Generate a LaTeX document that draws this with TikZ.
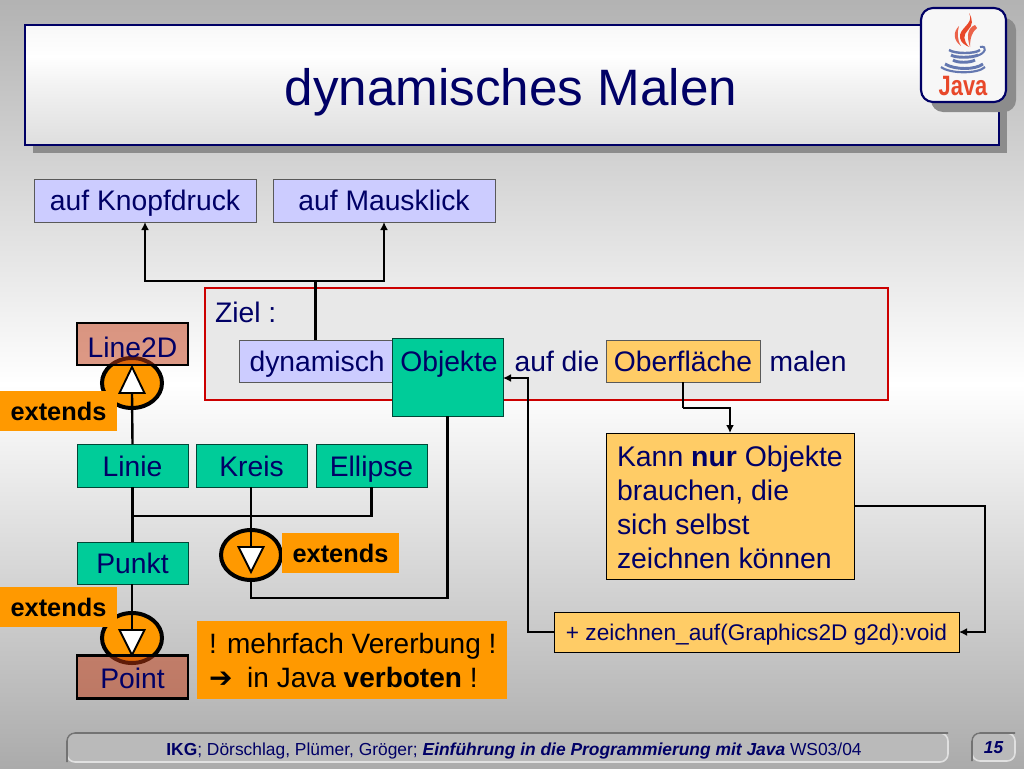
\documentclass[tikz,border=0pt]{standalone}
\usepackage{fontspec}
\setmainfont{Liberation Sans}
\newfontfamily\symfont{DejaVu Sans}
\usetikzlibrary{arrows.meta,shapes.geometric,calc}
\definecolor{navy}{HTML}{000066}
\definecolor{lilac}{HTML}{CCCCFF}
\definecolor{teal}{HTML}{00CC99}
\definecolor{sand}{HTML}{FFCC66}
\definecolor{orng}{HTML}{FF9900}
\definecolor{brick}{HTML}{C03810}
\definecolor{zred}{HTML}{CC0000}
\definecolor{flame}{HTML}{E8482A}
\definecolor{cupblue}{HTML}{6478B0}
\pgfdeclareverticalshading{pagebg}{100bp}{color(0bp)=(black!33);color(25bp)=(black!33);color(50bp)=(white);color(75bp)=(black!30);color(100bp)=(black!30)}
\pgfdeclareverticalshading{titlebg}{100bp}{color(0bp)=(black!13);color(25bp)=(black!13);color(50bp)=(black!5);color(62bp)=(white);color(75bp)=(black!3);color(100bp)=(black!3)}
\tikzset{
  x=0.75pt,y=-0.75pt,
  every node/.style={font=\fontsize{21.2}{25}\selectfont,text=navy,inner sep=0pt,outer sep=0pt},
  sz/.style 2 args={minimum width=#1*0.75pt,minimum height=#2*0.75pt},
  oneline/.style={text height=15.6pt,text depth=0pt},
  bluebox/.style={oneline,draw=black!65,line width=0.75pt,fill=lilac},
  tealbox/.style={oneline,draw=black!65!teal,line width=0.75pt,fill=teal},
  sandbox/.style={draw=black,line width=0.6pt,fill=sand},
  classbox/.style={oneline,draw=black,line width=1.6pt,fill=brick,fill opacity=0.5,text opacity=1},
  orangebox/.style={fill=orng,text=black},
  ext/.style={orangebox,text height=13.5pt,text depth=0pt,font=\fontsize{19}{22}\selectfont\bfseries},
  conn/.style={draw=black,line width=1.8pt},
  arr/.style={conn,-{Latex[length=6pt,width=6pt]}},
  ring/.style={draw=black,line width=3pt,fill=orng,ellipse,minimum width=60*0.75pt,minimum height=50*0.75pt},
  tri/.style={draw=black,line width=1.4pt,fill=white,line join=miter},
  footbox/.style={draw=black!12,line width=1.2pt,fill=black!27,rounded corners=6pt},
  footedge/.style={draw=black!55,line width=1.2pt,rounded corners=6pt},
}
\begin{document}
\begin{tikzpicture}
\useasboundingbox (0,0) rectangle (1024,768);
\shade[shading=pagebg] (0,0) rectangle (1024,768);

% title
\fill[black!45] (33,33) rectangle (1007,153);
\node[draw=navy,line width=1.6pt,sz={974}{120},shading=titlebg] (titlebox) at (512,85) {};
\node[text height=28.3pt,text depth=0pt,font=\fontsize{38.4}{44}\selectfont] (title) at (511,87) {dynamisches Malen};

% Java logo
\fill[black!45,rounded corners=12pt*0.75] (931,18) rectangle (1016,112);
\node[draw=navy,line width=1.6pt,fill=black!3,rounded corners=9pt,sz={85}{94}] (logo) at (963.5,55) {};
\fill[flame] (969,13) .. controls (975,24) and (958,28) .. (960,38) .. controls (961,43) and (965,45) .. (969,47)
  .. controls (963,40) and (963,35) .. (968,30) .. controls (973,25) and (973,20) .. (969,13);
\fill[flame!85!white] (975,25) .. controls (968,28) and (966,35) .. (970,47) .. controls (970,38) and (972,32) .. (977,28) -- cycle;
\fill[flame!85!white] (959,26) .. controls (953,32) and (953,40) .. (961,46) .. controls (957,39) and (957,33) .. (959,26) -- cycle;
\draw[cupblue,line width=1.8pt] (949,50) .. controls (955,54) and (975,54) .. (980,50);
\draw[cupblue,line width=1.5pt] (980,47) .. controls (988,45) and (986,54) .. (976,56);
\draw[cupblue,line width=2.2pt] (951,55) .. controls (955,58) and (972,58) .. (978,55);
\draw[cupblue,line width=2.2pt] (953,60) .. controls (957,63) and (970,63) .. (975,60);
\draw[cupblue,line width=2.2pt] (945,64) .. controls (955,70) and (975,70) .. (983,64);
\draw[cupblue,line width=1.6pt] (941,67) .. controls (950,74) and (978,74) .. (985,67);
\node[font=\fontsize{21}{24}\selectfont\bfseries,text=flame,xscale=0.78] (javatext) at (963,86) {Java};

% top boxes
\node[bluebox,sz={222}{43}] (knopf) at (145,200.5) {auf Knopfdruck};
\node[bluebox,sz={222}{43}] (maus) at (384,200.5) {auf Mausklick};

% Ziel frame
\node[draw=zred,line width=1.6pt,fill=black!9,sz={683}{112}] (ziel) at (546.5,344) {};
\node[anchor=west] (zieltext) at (215,312) {Ziel :};
\node[bluebox,sz={153}{42}] (dyn) at (315.5,361) {\hspace*{2.5pt}dynamisch};
\node[tealbox,sz={111}{78},anchor=north] (obj) at (447.5,338) {};
\node[oneline] (objtext) at (449,361) {Objekte};
\node[oneline] (aufdie) at (557,361) {auf die};
\node[oneline,draw=black!65,line width=0.75pt,fill=sand,sz={154}{42}] (ober) at (683,361) {Oberfläche};
\node[oneline] (malen) at (808,361) {malen};

% connectors to the top boxes
\coordinate (split) at (315.5,281);
\draw[conn] (dyn.north) -- (split);
\draw[arr] (split) -| (knopf.south);
\draw[arr] (split) -| (maus.south);

% extends rings behind translucent class boxes
\node[ring] (ringa) at (132,383) {};
\node[ring] (ringb) at (251,555) {};
\node[ring] (ringc) at (132,638) {};

\node[classbox,sz={111}{42},text height=20pt] (line2d) at (132.5,344) {Line2D};
\node[classbox,sz={111}{43},text height=17.2pt] (point) at (132.5,677) {Point};

\node[ext,sz={117}{40}] (exta) at (58.5,411) {extends};
\node[ext,sz={117}{40}] (extb) at (340.5,553) {extends};
\node[ext,sz={117}{40}] (extc) at (58.5,607) {extends};

% class boxes
\node[tealbox,sz={111}{43},text height=17.2pt] (linie) at (132.5,465.5) {Linie};
\node[tealbox,sz={111}{43},text height=17.2pt] (kreis) at (251.5,465.5) {Kreis};
\node[tealbox,sz={111}{43},text height=17.2pt] (ellipse) at (371.5,465.5) {Ellipse};
\node[tealbox,sz={111}{42}] (punkt) at (132.5,563) {Punkt};

% inheritance connectors
\coordinate (trial) at (132,393);
\coordinate (tribl) at (251,547);
\coordinate (tricl) at (132,630);
\coordinate (join) at (251,516);
\coordinate (ringbottom) at (251,598);
\draw[conn] (linie.north) -- (trial);
\draw[conn] (linie.south) -- (punkt.north);
\draw[conn] (kreis.south -| join) -- (tribl);
\draw[conn] (ellipse.south) |- (linie.south |- join);
\draw[conn] (punkt.south -| tricl) -- (tricl);
\draw[conn] (obj.south) |- (ringbottom) -- (ringb.south);

\draw[tri] (132,367) -- (144.5,393) -- (119.5,393) -- cycle;
\draw[tri] (251,572) -- (263.5,547) -- (238.5,547) -- cycle;
\draw[tri] (132,655) -- (144.5,630) -- (119.5,630) -- cycle;

% notes
\node[orangebox,sz={310}{78}] (verbot) at (352,660) {};
\node[anchor=west,text=black,align=left,font=\fontsize{21}{25}\selectfont] (verbottext) at (209,660.5) {! mehrfach Vererbung !\\{\symfont\bfseries\fontsize{21}{25}\selectfont ➔}\hspace{0.25em} in Java \textbf{verboten} !};

\node[sandbox,sz={248}{146}] (kann) at (730,506) {};
\node[anchor=west,align=left,font=\fontsize{21.3}{25.5}\selectfont] (kanntext) at (617,507.5) {Kann \textbf{nur} Objekte\\brauchen, die\\sich selbst\\zeichnen können};
\node[sandbox,text height=12pt,text depth=0pt,sz={405}{40},font=\fontsize{17}{20}\selectfont] (zeichnen) at (756.5,632) {+ zeichnen\_auf(Graphics2D g2d):void};

\coordinate (oberturn) at (683,408);
\coordinate (rightturn) at (985,506);
\coordinate (leftturn) at (528,632);
\coordinate (objin) at (528,378);
\draw[conn] (ober.south) -- (oberturn);
\draw[arr] (oberturn) -| (kann.north);
\draw[arr] (kann.east) -- (rightturn) |- (zeichnen.east);
\draw[arr] (zeichnen.west) -- (leftturn) -- (objin) -- (objin -| obj.east);

% footer
\node[footbox,sz={881}{29}] (footer) at (507.5,747.5) {};
\draw[footedge] (footer.south west) -- (footer.north west) -- (footer.north east);
\node[text height=9.6pt,text depth=0pt,font=\fontsize{13.05}{15}\selectfont] (footertext) at (514,749) {\textbf{IKG}; Dörschlag, Plümer, Gröger; \textbf{\itshape Einführung in die Programmierung mit Java} WS03/04};
\node[footbox,text height=9.6pt,text depth=0pt,sz={43}{28},font=\fontsize{13}{15}\selectfont\bfseries\itshape] (pagenum) at (993.5,747) {15};
\draw[footedge] (pagenum.south west) -- (pagenum.north west) -- (pagenum.north east);
\end{tikzpicture}
\end{document}
